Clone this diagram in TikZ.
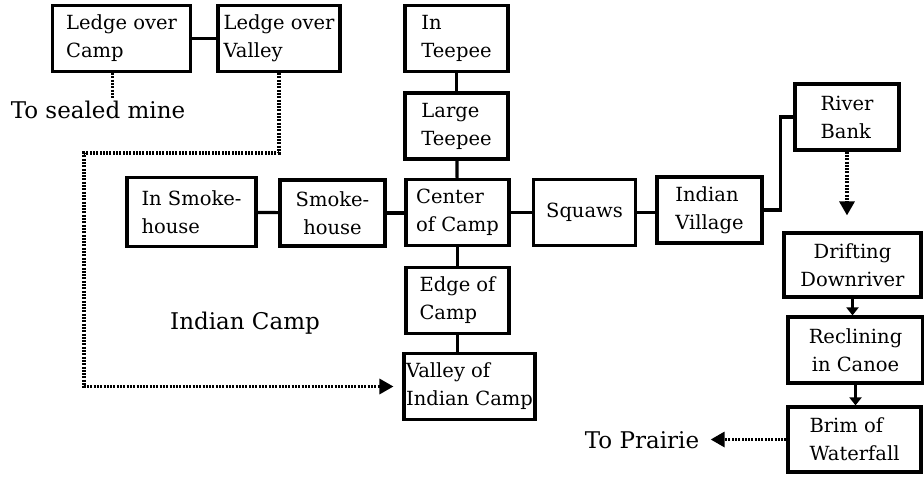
\documentclass[tikz,border=0pt]{standalone}
\usepackage{fontspec}
\setmainfont{DejaVu Serif}
\usepackage{tikz}
\usetikzlibrary{arrows.meta,positioning}

\begin{document}
\begin{tikzpicture}[
  x=1pt, y=-1pt,
  room/.style={rectangle, draw=black, line width=3.2pt, minimum width=#1, minimum height=66pt, align=left, inner sep=2pt, font=\fontsize{19.5}{28}\selectfont},
  room/.default=104pt,
  link/.style={line width=3.2pt},
  trail/.style={line width=3.2pt, dash pattern=on 2pt off 1.3pt, -{Triangle[length=14pt,width=15pt]}},
  plain trail/.style={line width=3.2pt, dash pattern=on 2pt off 1.3pt},
  flow/.style={line width=3.2pt, -{Triangle[length=8pt,width=12pt]}},
  label/.style={font=\fontsize{23}{28}\selectfont}
]
\useasboundingbox (0,0) rectangle (924,479);

% Ledges above the camp
\node[room=138pt] (lcamp) at (121.5,38.5) {Ledge over\\Camp};
\node[room=122pt] (lvalley) at (279,38.5) {Ledge over\\Valley};
\node[label] (mine) at (98,110) {To sealed mine};

% Teepees and the center column
\node[room=103pt] (inteepee) at (456.5,38.5) {In\\Teepee};
\node[room=103pt] (lteepee) at (456.5,126) {Large\\Teepee};
\node[room=103pt] (center) at (457.5,212.5) {Center\\of Camp};
\node[room=103pt] (edge) at (457.5,300.5) {Edge of\\Camp};
\node[room=127pt] (valley) at (469.5,386.5) {Valley of\\Indian Camp};

% Left and right of the center
\node[room=129pt, minimum height=69pt] (smokein) at (191.5,212) {In Smoke-\\house};
\node[room=105pt, align=center] (smoke) at (332.5,213) {Smoke-\\house};
\node[room=102pt] (squaws) at (584.5,212.5) {Squaws};
\node[room=105pt] (village) at (709.5,210) {Indian\\Village};

% River trip
\node[room=104pt] (river) at (847,117) {River\\Bank};
\node[room=137pt, minimum height=64pt, align=center] (drift) at (852.5,265) {Drifting\\Downriver};
\node[room=135pt, align=center] (recline) at (855.5,350) {Reclining\\in Canoe};
\node[room=133pt, minimum height=65pt] (brim) at (854.5,439.5) {Brim of\\Waterfall};
\node[label] (prairie) at (642,440) {To Prairie};

\node[label] (campname) at (245,323) {Indian Camp};

\coordinate (bend) at (84,153);

% Solid connections
\draw[link] (lcamp) -- (lvalley);
\draw[link] (inteepee) -- (lteepee);
\draw[link] (lteepee) -- (center);
\draw[link] (smokein) -- (smoke);
\draw[link] (smoke.east) -- (center.west |- smoke.east);
\draw[link] (center) -- (squaws);
\draw[link] (squaws.east) -- (village.west |- squaws.east);
\draw[link] (center) -- (edge);
\draw[link] (edge.south) -- (edge.south |- valley.north);
\draw[link] (village.east) -- ++(17,0) |- (river.west);
\draw[flow] (drift) -- (recline.north -| drift.south);
\draw[flow] (recline) -- (brim.north -| recline.south);

% Dotted ways out
\draw[plain trail] ([xshift=-9pt]lcamp.south) -- ([xshift=-9pt]lcamp.south |- mine.north);
\draw[trail, shorten >=9pt] (lvalley.south) |- (bend) |- (valley.west);
\draw[trail, shorten >=16pt] (river.south) -- (river.south |- drift.north);
\draw[trail, shorten >=8pt] (brim.west) -- (prairie.east |- brim.west);

\end{tikzpicture}
\end{document}
